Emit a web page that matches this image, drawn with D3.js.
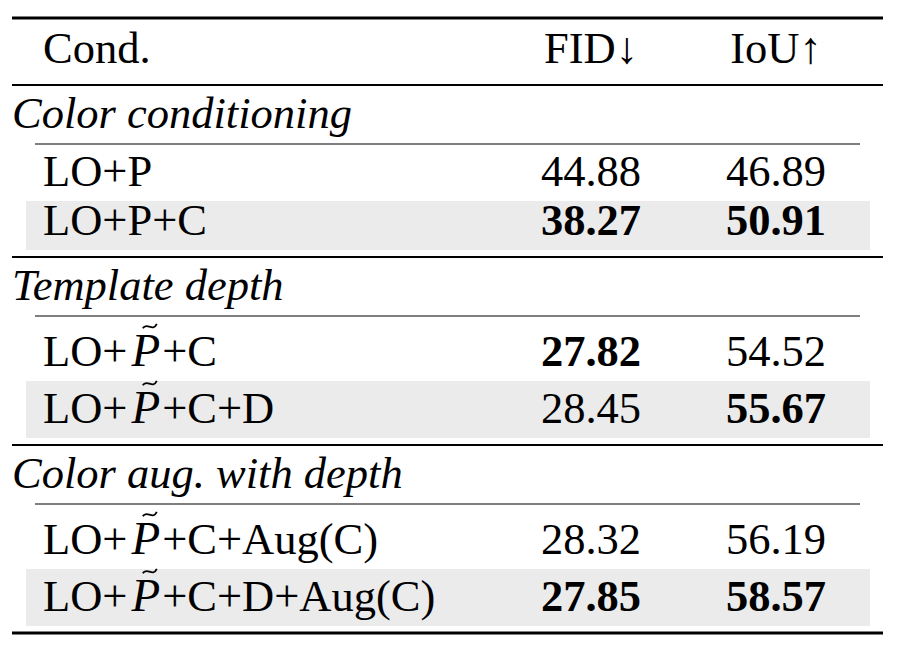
<!DOCTYPE html>
<html>
<head>
<meta charset="utf-8">
<script src="https://cdn.jsdelivr.net/npm/d3@7"></script>
<style>
  body { margin: 0; background: #fff; }
  text { font-family: "Liberation Serif", "Times New Roman", serif; fill: #000; }
</style>
</head>
<body>
<div id="chart"></div>
<script>
var columns = ["Cond.", "FID↓", "IoU↑"];
var sections = ["Color conditioning", "Template depth", "Color aug. with depth"];
var rowSection = [0, 0, 1, 1, 2, 2];
var rowLabels = ["LO+P", "LO+P+C", "LO+P̃+C", "LO+P̃+C+D", "LO+P̃+C+Aug(C)", "LO+P̃+C+D+Aug(C)"];
var fid = [44.88, 38.27, 27.82, 28.45, 28.32, 27.85];
var iou = [46.89, 50.91, 54.52, 55.67, 56.19, 58.57];
var shaded = [false, true, false, true, false, true];

var width = 898, height = 652;
var fontSize = 44.5;
var left = 12, right = 883;

var svg = d3.select("#chart").append("svg")
    .attr("width", width)
    .attr("height", height);

var x = d3.scaleOrdinal().domain(columns).range([43, 591, 776]);
var anchor = d3.scaleOrdinal().domain(columns).range(["start", "middle", "middle"]);

// vertical layout, walked top to bottom
var y = 18;
var rules = [{y: y, w: 3, x0: left, x1: right}];
var header = {baseline: 63};
y = 85;
rules.push({y: y, w: 1.8, x0: left, x1: right});

var heads = [], rows = [];
sections.forEach(function(s, si) {
  heads.push({text: s, baseline: y + 43});
  y += 59;
  rules.push({y: y, w: 1.1, x0: 35, x1: 860});
  var idx = d3.range(rowLabels.length).filter(function(i) { return rowSection[i] === si; });
  var fBest = d3.min(idx, function(i) { return fid[i]; });
  var iBest = d3.max(idx, function(i) { return iou[i]; });
  idx.forEach(function(i, k) {
    var tilde = rowLabels[i].indexOf("P̃") >= 0;
    var h = (tilde ? 57 : 49) + (k === 0 ? 8 : 0);
    rows.push({i: i, top: y, h: h, baseline: y + h - 15,
               fBold: fid[i] === fBest, iBold: iou[i] === iBest});
    y += h;
  });
  y += 7;
  rules.push({y: y, w: si === sections.length - 1 ? 3 : 1.8, x0: left, x1: right});
});

// shaded rows
svg.append("g").selectAll("rect")
    .data(rows.filter(function(r) { return shaded[r.i]; }))
    .enter().append("rect")
    .attr("x", 26)
    .attr("width", 870 - 26)
    .attr("y", function(r) { return r.top; })
    .attr("height", function(r) { return r.h; })
    .attr("fill", "#ebebeb");

svg.append("g").selectAll("line")
    .data(rules).enter()
    .append("line")
    .attr("x1", function(d) { return d.x0; })
    .attr("x2", function(d) { return d.x1; })
    .attr("y1", function(d) { return d.y; })
    .attr("y2", function(d) { return d.y; })
    .attr("stroke", "#000")
    .attr("stroke-width", function(d) { return d.w; });

svg.append("g").selectAll("text")
    .data(columns).enter()
    .append("text")
    .attr("x", function(c) { return x(c); })
    .attr("y", header.baseline)
    .attr("text-anchor", function(c) { return anchor(c); })
    .style("font-size", fontSize + "px")
    .text(function(c) { return c; });

svg.append("g").selectAll("text")
    .data(heads).enter()
    .append("text")
    .attr("x", left)
    .attr("y", function(d) { return d.baseline; })
    .style("font-size", fontSize + "px")
    .style("font-style", "italic")
    .text(function(d) { return d.text; });

var rowG = svg.append("g").selectAll("g")
    .data(rows).enter()
    .append("g");

var labels = rowG.append("text")
    .attr("x", x(columns[0]))
    .attr("y", function(r) { return r.baseline; })
    .style("font-size", fontSize + "px");

labels.each(function(r) {
  var t = d3.select(this);
  var parts = rowLabels[r.i].split("P̃");
  t.append("tspan").text(parts[0]);
  if (parts.length > 1) {
    t.append("tspan").attr("dx", 4).style("font-style", "italic").style("font-size", "47px").text("P");
    t.append("tspan").attr("dx", 2).text(parts[1]);
    // small tilde over the italic P
    var box = this.getExtentOfChar(parts[0].length);
    var cx = box.x + box.width / 2 + 4;
    var x0 = cx - 7, x1 = cx + 7;
    var ty = r.baseline - 40, a = 2.2;
    d3.select(this.parentNode).append("path")
        .attr("d", "M" + x0 + "," + (ty + a) +
              "C" + (x0 + 4) + "," + (ty - 2 * a) + " " + (x1 - 4) + "," + (ty + 3 * a) + " " + x1 + "," + (ty - a))
        .attr("fill", "none")
        .attr("stroke", "#000")
        .attr("stroke-width", 1.8);
  }
});

rowG.append("text")
    .attr("x", x(columns[1]))
    .attr("y", function(r) { return r.baseline; })
    .attr("text-anchor", "middle")
    .style("font-size", fontSize + "px")
    .style("font-weight", function(r) { return r.fBold ? "bold" : "normal"; })
    .text(function(r) { return fid[r.i].toFixed(2); });

rowG.append("text")
    .attr("x", x(columns[2]))
    .attr("y", function(r) { return r.baseline; })
    .attr("text-anchor", "middle")
    .style("font-size", fontSize + "px")
    .style("font-weight", function(r) { return r.iBold ? "bold" : "normal"; })
    .text(function(r) { return iou[r.i].toFixed(2); });
</script>
</body>
</html>
